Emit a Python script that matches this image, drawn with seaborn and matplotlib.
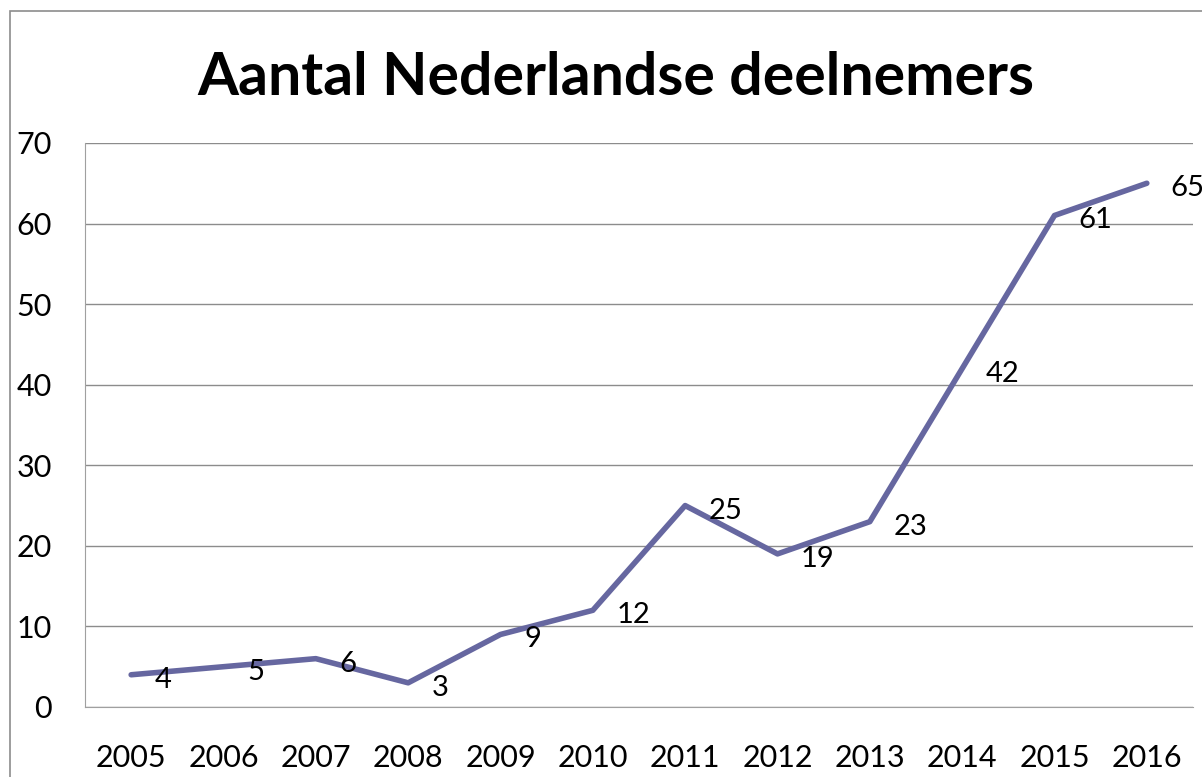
import pandas as pd
import matplotlib.pyplot as plt
import seaborn as sns
from matplotlib.patches import Rectangle

jaren = [2005, 2006, 2007, 2008, 2009, 2010, 2011, 2012, 2013, 2014, 2015, 2016]
deelnemers = [4, 5, 6, 3, 9, 12, 25, 19, 23, 42, 61, 65]
y_ticks = [0, 10, 20, 30, 40, 50, 60, 70]

ds = pd.DataFrame({'jaar': jaren, 'aantal': deelnemers})

sns.set_style('white')
plt.rcParams['font.family'] = ['Lato', 'DejaVu Sans']

fig = plt.figure(figsize=(12.02, 7.77), dpi=100)
ax = fig.add_axes([0.0707, 0.0901, 0.9218, 0.7259])

sns.lineplot(data=ds, x='jaar', y='aantal', ax=ax, color='#6667A0', linewidth=4)

# labels rechts van elk punt, een beetje lager
for j, a in zip(jaren, deelnemers):
    ax.annotate(str(a), (j, a), xytext=(17, -3.6), textcoords='offset points',
                ha='left', va='center', fontsize=21, color='black', annotation_clip=False)

ax.set_xlim(2004.5, 2016.5)
ax.set_ylim(0, 70)
ax.set_xticks(jaren)
ax.set_yticks(y_ticks)
ax.tick_params(axis='both', labelsize=22, length=0, labelcolor='black')
ax.tick_params(axis='x', pad=27)
ax.tick_params(axis='y', pad=24)
ax.yaxis.grid(True, color='#8c8c8c', linewidth=1)
ax.set_xlabel('')
ax.set_ylabel('')
ax.spines['right'].set_visible(False)
ax.spines['top'].set_visible(False)
ax.spines['left'].set_color('#a0a0a0')
ax.spines['bottom'].set_color('#a0a0a0')

fig.text(0.512, 0.9, 'Aantal Nederlandse deelnemers', ha='center', va='center',
         fontsize=42.5, fontweight='bold', color='black')

# rand om de grafiek
fig.patches.append(Rectangle((10 / 1202, -0.1), 1.2, 1 - 11 / 777 + 0.1, transform=fig.transFigure,
                             fill=False, edgecolor='#8c8c8c', linewidth=1.2))

fig.savefig('out.png', dpi=100)
